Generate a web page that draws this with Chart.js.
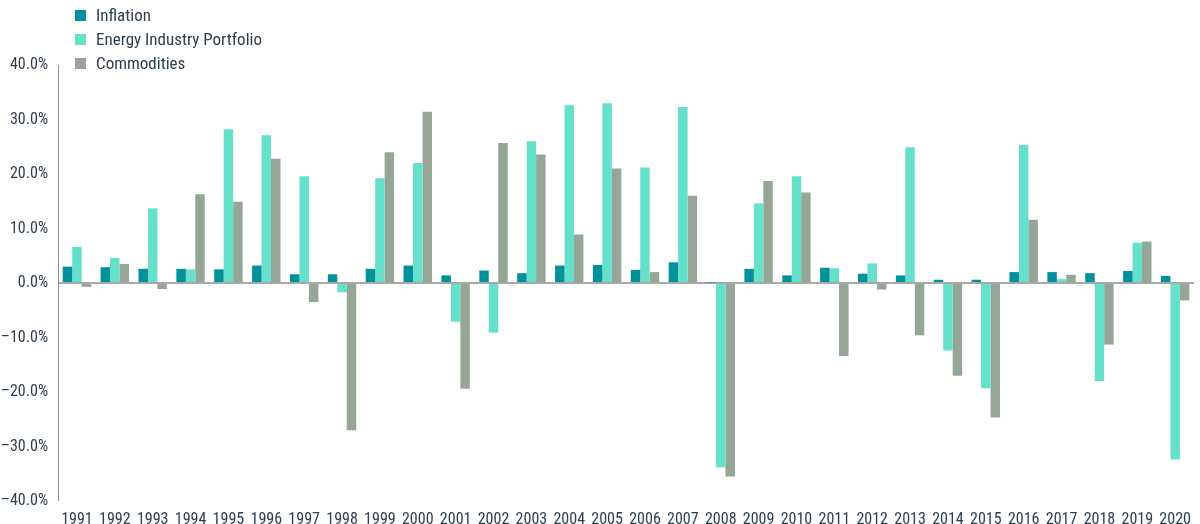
<!DOCTYPE html>
<html>
<head>
<meta charset="utf-8">
<script src="https://cdn.jsdelivr.net/npm/chart.js@4/dist/chart.umd.min.js"></script>
<style>
  html, body { margin: 0; padding: 0; background: #fff; }
  #wrap { position: relative; width: 1200px; height: 524px; }
  #legend { position: absolute; left: 75px; top: 3px; font-family: 'Roboto Condensed', 'Liberation Sans Narrow', 'DejaVu Sans Condensed', 'Roboto', sans-serif; font-size: 17px; color: #2f3e4c; }
  #legend div { height: 24px; line-height: 22px; display: flex; align-items: center; }
  #legend span.box { display: inline-block; width: 11px; height: 11px; margin-right: 10px; }
</style>
</head>
<body>
<div id="wrap">
  <canvas id="chartEnergy" width="1200" height="524"></canvas>
  <div id="legend"></div>
</div>
<script>
var years = ["1991","1992","1993","1994","1995","1996","1997","1998","1999","2000",
             "2001","2002","2003","2004","2005","2006","2007","2008","2009","2010",
             "2011","2012","2013","2014","2015","2016","2017","2018","2019","2020"];

var inflation = [3.0, 2.9, 2.6, 2.6, 2.5, 3.2, 1.6, 1.6, 2.6, 3.2,
                 1.4, 2.3, 1.8, 3.2, 3.3, 2.4, 3.8, 0.1, 2.6, 1.4,
                 2.8, 1.7, 1.4, 0.6, 0.6, 2.0, 2.0, 1.8, 2.2, 1.3];

var energy = [6.6, 4.6, 13.7, 2.5, 28.2, 27.1, 19.6, -1.7, 19.2, 22.0,
              -7.1, -9.1, 26.0, 32.6, 33.0, 21.2, 32.3, -33.8, 14.6, 19.6,
              2.7, 3.6, 24.9, -12.4, -19.3, 25.3, 0.7, -18.0, 7.4, -32.4];

var commodities = [-0.7, 3.5, -1.1, 16.3, 14.9, 22.8, -3.5, -27.0, 24.0, 31.4,
                   -19.4, 25.7, 23.6, 8.9, 21.0, 2.0, 16.0, -35.5, 18.7, 16.6,
                   -13.4, -1.2, -9.6, -17.0, -24.7, 11.6, 1.5, -11.3, 7.6, -3.2];

var yTicks = [-40, -30, -20, -10, 0, 10, 20, 30, 40];

var textColor = "#2f3e4c";
var fontFamily = "'Roboto Condensed', 'Liberation Sans Narrow', 'DejaVu Sans Condensed', 'Roboto', sans-serif";

var datasets = [
  { label: "Inflation", data: inflation, backgroundColor: "#00919b" },
  { label: "Energy Industry Portfolio", data: energy, backgroundColor: "#64e0cb" },
  { label: "Commodities", data: commodities, backgroundColor: "#95a596" }
];

// html legend
var legendEl = document.getElementById("legend");
datasets.forEach(function (ds) {
  var row = document.createElement("div");
  row.innerHTML = '<span class="box" style="background:' + ds.backgroundColor + '"></span>' + ds.label;
  legendEl.appendChild(row);
});

var ctx = document.getElementById("chartEnergy").getContext("2d");
new Chart(ctx, {
  type: "bar",
  data: {
    labels: years,
    datasets: datasets.map(function (ds) {
      return {
        label: ds.label,
        data: ds.data,
        backgroundColor: ds.backgroundColor,
        borderWidth: 0,
        categoryPercentage: 0.75,
        barPercentage: 1.0
      };
    })
  },
  options: {
    responsive: false,
    animation: false,
    layout: { padding: { top: 65, right: 2, left: 0, bottom: 0 } },
    plugins: {
      legend: { display: false },
      tooltip: { enabled: false }
    },
    scales: {
      x: {
        grid: { display: false, drawTicks: false },
        border: { display: false },
        afterFit: function (axis) { axis.height = 23; },
        ticks: {
          color: textColor,
          padding: 9,
          maxRotation: 0,
          autoSkip: false,
          font: { family: fontFamily, size: 16 }
        }
      },
      y: {
        min: -40,
        max: 40,
        afterBuildTicks: function (axis) {
          axis.ticks = yTicks.map(function (v) { return { value: v }; });
        },
        afterFit: function (axis) { axis.width = 58; },
        border: { display: true, color: "#8c8c8c", width: 1 },
        grid: {
          drawTicks: false,
          color: function (c) { return c.tick && c.tick.value === 0 ? "#a8a8a8" : "rgba(0,0,0,0)"; },
          lineWidth: function (c) { return c.tick && c.tick.value === 0 ? 2 : 0; }
        },
        ticks: {
          color: textColor,
          padding: 10,
          font: { family: fontFamily, size: 16 },
          callback: function (v) {
            var s = Math.abs(v).toFixed(1) + "%";
            return v < 0 ? "\u2013" + s : s;
          }
        }
      }
    }
  }
});
</script>
</body>
</html>
